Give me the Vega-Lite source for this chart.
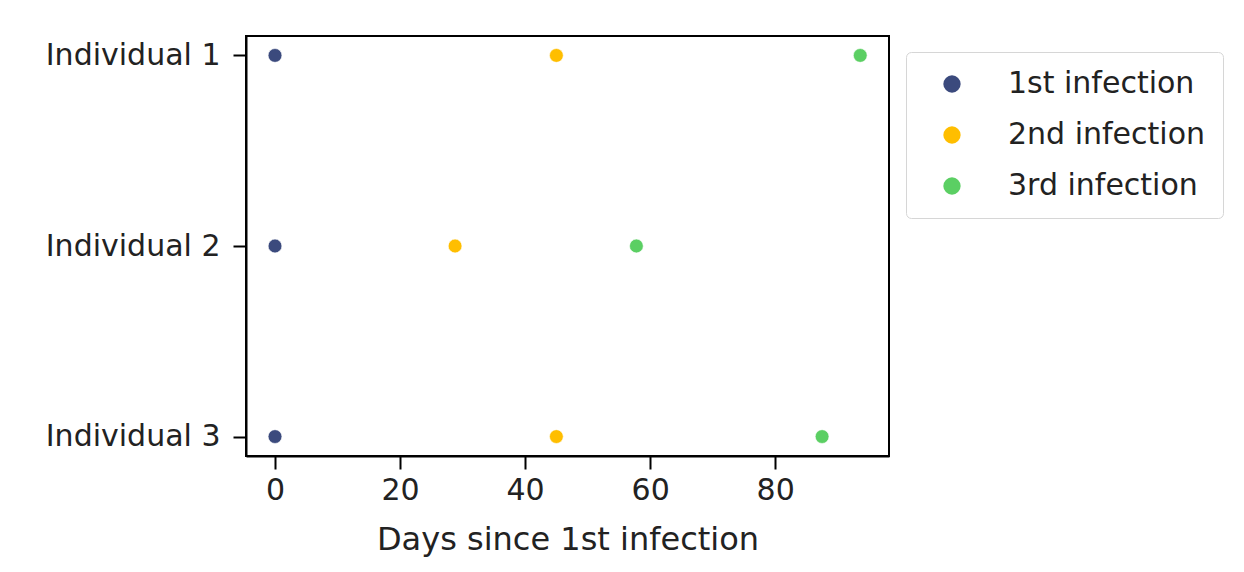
{
  "$schema": "https://vega.github.io/schema/vega-lite/v6.json",
  "autosize": {"type": "none"},
  "padding": {"left": 246, "top": 36, "right": 355, "bottom": 116},
  "width": 643,
  "height": 420,
  "background": "white",
  "data": {
    "values": [
      {"individual": "Individual 1", "day": 0, "infection": "1st infection"},
      {"individual": "Individual 1", "day": 45, "infection": "2nd infection"},
      {"individual": "Individual 1", "day": 93.6, "infection": "3rd infection"},
      {"individual": "Individual 2", "day": 0, "infection": "1st infection"},
      {"individual": "Individual 2", "day": 28.8, "infection": "2nd infection"},
      {"individual": "Individual 2", "day": 57.8, "infection": "3rd infection"},
      {"individual": "Individual 3", "day": 0, "infection": "1st infection"},
      {"individual": "Individual 3", "day": 45, "infection": "2nd infection"},
      {"individual": "Individual 3", "day": 87.5, "infection": "3rd infection"}
    ]
  },
  "mark": {"type": "point", "filled": true, "size": 190, "opacity": 1, "stroke": "white", "strokeWidth": 0.6},
  "encoding": {
    "x": {
      "field": "day",
      "type": "quantitative",
      "title": "Days since 1st infection",
      "scale": {"domain": [-4.64, 98.2], "nice": false, "zero": false},
      "axis": {"values": [0, 20, 40, 60, 80], "grid": false}
    },
    "y": {
      "field": "individual",
      "type": "nominal",
      "title": null,
      "scale": {"type": "point", "padding": 0.102},
      "axis": {"grid": false}
    },
    "color": {
      "field": "infection",
      "type": "nominal",
      "title": null,
      "scale": {
        "domain": ["1st infection", "2nd infection", "3rd infection"],
        "range": ["#3b4a7d", "#ffbe00", "#5bcf63"]
      },
      "legend": {
        "orient": "none",
        "legendX": 660,
        "legendY": 16,
        "padding": 17,
        "symbolOffset": 14,
        "symbolSize": 300,
        "symbolType": "circle",
        "symbolStrokeWidth": 0,
        "labelOffset": 41,
        "labelFontSize": 30,
        "labelLimit": 500,
        "labelFont": "DejaVu Sans",
        "labelColor": "#222222",
        "rowPadding": 21,
        "strokeColor": "#d6d6d6",
        "cornerRadius": 5,
        "fillColor": "white"
      }
    }
  },
  "config": {
    "font": "DejaVu Sans",
    "view": {"stroke": "black", "strokeWidth": 2},
    "axis": {
      "domainColor": "black",
      "domainWidth": 2,
      "tickColor": "black",
      "tickWidth": 2,
      "tickSize": 13,
      "labelFontSize": 30,
      "labelColor": "#222222",
      "labelFont": "DejaVu Sans",
      "titleFontSize": 32,
      "titleFont": "DejaVu Sans",
      "titleFontWeight": "normal",
      "titleColor": "#222222"
    },
    "axisX": {"labelPadding": 6, "titlePadding": 19},
    "axisY": {"labelPadding": 13}
  }
}
